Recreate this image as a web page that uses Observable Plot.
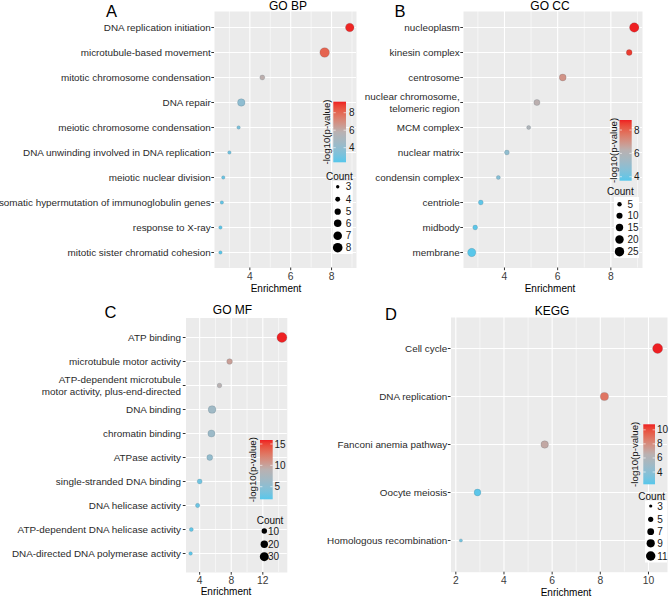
<!DOCTYPE html>
<html><head><meta charset="utf-8">
<script src="https://cdn.jsdelivr.net/npm/d3@7"></script>
<script src="https://cdn.jsdelivr.net/npm/@observablehq/plot@0.6"></script>
<style>
body{margin:0;background:#fff;}
#fig{position:relative;width:669px;height:596px;overflow:hidden;font-family:"Liberation Sans",Arial,sans-serif;background:#fff;}
#fig svg{position:absolute;overflow:visible;max-width:none;}
</style></head><body><div id="fig"></div>
<script>
// ---------- Panel A: GO BP ----------
const bpTerms = ["DNA replication initiation","microtubule-based movement","mitotic chromosome condensation","DNA repair","meiotic chromosome condensation","DNA unwinding involved in DNA replication","meiotic nuclear division","somatic hypermutation of immunoglobulin genes","response to X-ray","mitotic sister chromatid cohesion"];
const bpEnrichment = [8.89, 7.66, 4.61, 3.58, 3.45, 3.00, 2.70, 2.63, 2.56, 2.56];
const bpLogP = [9.2, 8.1, 5.9, 3.9, 3.3, 3.0, 2.8, 2.6, 2.45, 2.4];
const bpCount = [7, 8, 4, 6, 3, 3, 3, 3, 3, 3];
const bpColorTicks = [4, 6, 8];
const bpCountBreaks = [3, 4, 5, 6, 7, 8];

// ---------- Panel B: GO CC ----------
const ccTerms = ["nucleoplasm","kinesin complex","centrosome","nuclear chromosome,\ntelomeric region","MCM complex","nuclear matrix","condensin complex","centriole","midbody","membrane"];
const ccEnrichment = [8.88, 8.69, 6.19, 5.22, 4.91, 4.09, 3.77, 3.11, 2.90, 2.77];
const ccLogP = [8.86, 8.6, 7.0, 6.3, 5.9, 4.9, 4.6, 3.8, 3.75, 3.7];
const ccCount = [25, 9, 13, 10, 4, 6, 4, 6, 6, 19];
const ccColorTicks = [4, 6, 8];
const ccCountBreaks = [5, 10, 15, 20, 25];

// ---------- Panel C: GO MF ----------
const mfTerms = ["ATP binding","microtubule motor activity","ATP-dependent microtubule\nmotor activity, plus-end-directed","DNA binding","chromatin binding","ATPase activity","single-stranded DNA binding","DNA helicase activity","ATP-dependent DNA helicase activity","DNA-directed DNA polymerase activity"];
const mfEnrichment = [14.42, 7.79, 6.51, 5.57, 5.49, 5.28, 4.00, 3.74, 2.94, 2.85];
const mfLogP = [15.9, 10.2, 9.0, 6.6, 6.2, 5.6, 3.2, 3.0, 2.5, 2.3];
const mfCount = [38, 11, 7, 22, 18, 12, 8, 6, 5, 4];
const mfColorTicks = [5, 10, 15];
const mfCountBreaks = [10, 20, 30];

// ---------- Panel D: KEGG ----------
const keggTerms = ["Cell cycle","DNA replication","Fanconi anemia pathway","Oocyte meiosis","Homologous recombination"];
const keggEnrichment = [10.38, 8.17, 5.69, 2.90, 2.21];
const keggLogP = [10.79, 8.8, 6.9, 2.4, 3.1];
const keggCount = [12, 9, 8, 7, 3];
const keggColorTicks = [4, 6, 8, 10];
const keggCountBreaks = [3, 5, 7, 9, 11];

const FONT = "Liberation Sans, Arial, sans-serif";
const fig = document.getElementById("fig");

const panels = [
  {letter:"A", title:"GO BP", terms:bpTerms, enrich:bpEnrichment, logp:bpLogP, count:bpCount,
   svg:[0,0,360,296], panel:[214,11,356,267.5], xDomain:[2.27,9.22], xTicks:[4,6,8],
   cDomain:[2.33,9.26], cTicks:bpColorTicks, rDomain:[3,8], rRange:[1.7,4.8],
   bar:[333.3,101.7,346,162.3], barTitleX:327, cLabelX:349,
   countTitle:[326,176], countYs:[186.7,199.3,211.7,223.3,235.7,247.7], countBreaks:bpCountBreaks, circX:337.7, countLabelX:345.7, keyBg:[332.7,181,352.7,254],
   letterPos:[111.5,17], titlePos:[288,10], xlabPos:[276,291.5], tickPad:1.0},
  {letter:"B", title:"GO CC", terms:ccTerms, enrich:ccEnrichment, logp:ccLogP, count:ccCount,
   svg:[360,0,309,296], panel:[463,11,642,267.5], xDomain:[2.46,9.19], xTicks:[4,6,8],
   cDomain:[3.66,8.86], cTicks:ccColorTicks, rDomain:[4,26], rRange:[2.0,4.8],
   bar:[619.5,120,631.7,180.7], barTitleX:613.3, cLabelX:634,
   countTitle:[607,191], countYs:[204.3,215.7,227.5,239.5,251.7], countBreaks:ccCountBreaks, circX:619.5, countLabelX:627.5, keyBg:[614,197,639,258],
   letterPos:[400,17], titlePos:[550,10], xlabPos:[550,291.5], tickPad:1.0},
  {letter:"C", title:"GO MF", terms:mfTerms, enrich:mfEnrichment, logp:mfLogP, count:mfCount,
   svg:[0,296,300,300], panel:[185.5,317.5,286.8,572], xDomain:[2.27,15.1], xTicks:[4,8,12],
   cDomain:[2.05,15.94], cTicks:mfColorTicks, rDomain:[4,38], rRange:[1.8,5.0],
   bar:[260,440,272.7,499.3], barTitleX:252.7, cLabelX:274.5,
   countTitle:[256.7,520.7], countYs:[531,544.3,556.7], countBreaks:mfCountBreaks, circX:264.3, countLabelX:268, keyBg:null,
   letterPos:[110.5,318.3], titlePos:[232.5,314.3], xlabPos:[226,595], tickPad:2.3},
  {letter:"D", title:"KEGG", terms:keggTerms, enrich:keggEnrichment, logp:keggLogP, count:keggCount,
   svg:[300,296,369,300], panel:[450.5,317,667,571.7], xDomain:[1.8,10.79], xTicks:[2,4,6,8,10],
   cDomain:[2.25,10.79], cTicks:keggColorTicks, rDomain:[3,12], rRange:[1.6,5.0],
   bar:[643.3,424.3,655,484.3], barTitleX:635, cLabelX:657,
   countTitle:[638.3,496], countYs:[506,519.3,531.7,543.3,556], countBreaks:keggCountBreaks, circX:650.7, countLabelX:657.3, keyBg:[645,500.5,667,562.5],
   letterPos:[391,320], titlePos:[552,315.3], xlabPos:[566,595.5], tickPad:1.0}
];

function drawPanel(c, idx) {
  const data = c.terms.map((t, i) => ({term: t, x: c.enrich[i], p: c.logp[i], n: c.count[i]}));
  const [L, T, W, H] = c.svg;
  const [px0, py0, px1, py1] = c.panel;
  const step = c.xTicks[1] - c.xTicks[0];
  const minor = d3.range(c.xTicks[0] - step / 2, c.xDomain[1], step)
    .filter(v => v > c.xDomain[0] && v < c.xDomain[1]);
  const plot = Plot.plot({
    width: W, height: H,
    marginLeft: px0 - L, marginRight: L + W - px1, marginTop: py0 - T, marginBottom: T + H - py1,
    style: {fontFamily: FONT, background: "transparent", color: "#333", overflow: "visible"},
    x: {domain: c.xDomain},
    y: {type: "point", domain: c.terms, padding: 0.6},
    color: {type: "linear", domain: [c.cDomain[0], (c.cDomain[0] + c.cDomain[1]) / 2, c.cDomain[1]],
            range: ["#56C7EB", "#B9B1B1", "#EE1F22"], interpolate: "lab"},
    r: {type: "sqrt", domain: c.rDomain, range: c.rRange},
    marks: [
      Plot.frame({fill: "#EBEBEB", stroke: null}),
      Plot.ruleX(minor, {stroke: "white", strokeWidth: 0.55}),
      Plot.ruleX(c.xTicks, {stroke: "white", strokeWidth: 1.1}),
      Plot.ruleY(c.terms, {stroke: "white", strokeWidth: 1.1}),
      Plot.dot(data, {x: "x", y: "term", r: "n", fill: "p", stroke: "#35505c", strokeOpacity: 0.35, strokeWidth: 0.5}),
      Plot.axisX({ticks: c.xTicks, tickFormat: d => String(d), tickSize: 2.7, tickPadding: 1.5, fontSize: 10.3, label: null, fill: "#3a3a3a", stroke: "#333"}),
      Plot.axisY({tickSize: 2.7, tickPadding: c.tickPad, fontSize: 9.9, label: null, lineHeight: 1.18, fill: "#2a2a2a", stroke: "#333"})
    ]
  });
  plot.style.left = L + "px";
  plot.style.top = T + "px";
  fig.appendChild(plot);

  const colorScale = plot.scale("color");
  const rScale = plot.scale("r");
  const svg = d3.select(plot);
  const g = svg.append("g").attr("transform", `translate(${-L},${-T})`)
    .attr("font-family", FONT).attr("text-anchor", "start");

  // panel letter & title
  g.append("text").attr("x", c.letterPos[0]).attr("y", c.letterPos[1]).attr("text-anchor", "middle")
    .attr("font-size", 16.5).attr("fill", "#000").text(c.letter);
  g.append("text").attr("x", c.titlePos[0]).attr("y", c.titlePos[1]).attr("text-anchor", "middle")
    .attr("font-size", 12).attr("fill", "#000").text(c.title);
  g.append("text").attr("x", c.xlabPos[0]).attr("y", c.xlabPos[1]).attr("text-anchor", "middle")
    .attr("font-size", 10).attr("fill", "#000").text("Enrichment");

  // colour bar
  const [bx0, by0, bx1, by1] = c.bar;
  const gid = "grad" + idx;
  const grad = svg.append("defs").append("linearGradient").attr("id", gid)
    .attr("x1", 0).attr("y1", 1).attr("x2", 0).attr("y2", 0);
  d3.range(0, 1.0001, 0.05).forEach(t => {
    const v = c.cDomain[0] + t * (c.cDomain[1] - c.cDomain[0]);
    grad.append("stop").attr("offset", t).attr("stop-color", colorScale.apply(v));
  });
  g.append("rect").attr("x", bx0).attr("y", by0).attr("width", bx1 - bx0).attr("height", by1 - by0)
    .attr("fill", `url(#${gid})`);
  const cy = d3.scaleLinear().domain(c.cDomain).range([by1, by0]);
  c.cTicks.forEach(v => {
    const y = cy(v);
    g.append("line").attr("x1", bx0).attr("x2", bx0 + 2.4).attr("y1", y).attr("y2", y).attr("stroke", "white").attr("stroke-width", 0.6);
    g.append("line").attr("x1", bx1 - 2.4).attr("x2", bx1).attr("y1", y).attr("y2", y).attr("stroke", "white").attr("stroke-width", 0.6);
    g.append("text").attr("x", c.cLabelX).attr("y", y).attr("dy", "0.35em").attr("text-anchor", "start")
      .attr("font-size", 10).attr("fill", "#1a1a1a").text(v);
  });
  g.append("text").attr("transform", `translate(${c.barTitleX},${(by0 + by1) / 2}) rotate(-90)`)
    .attr("text-anchor", "middle").attr("dy", "0.35em").attr("font-size", 9.7).attr("fill", "#111").text("-log10(p-value)");

  // size legend
  g.append("text").attr("x", c.countTitle[0]).attr("y", c.countTitle[1]).attr("dy", "0.35em").attr("text-anchor", "start")
    .attr("font-size", 10).attr("fill", "#111").text("Count");
  if (c.keyBg) {
    g.append("rect").attr("x", c.keyBg[0]).attr("y", c.keyBg[1]).attr("width", c.keyBg[2] - c.keyBg[0])
      .attr("height", c.keyBg[3] - c.keyBg[1]).attr("fill", "white");
  }
  c.countBreaks.forEach((v, i) => {
    const y = c.countYs[i];
    g.append("circle").attr("cx", c.circX).attr("cy", y).attr("r", rScale.apply(v)).attr("fill", "#000");
    g.append("text").attr("x", c.countLabelX).attr("y", y).attr("dy", "0.35em").attr("text-anchor", "start")
      .attr("font-size", 10).attr("fill", "#1a1a1a").text(v);
  });
}

panels.forEach(drawPanel);
</script>
</body></html>
